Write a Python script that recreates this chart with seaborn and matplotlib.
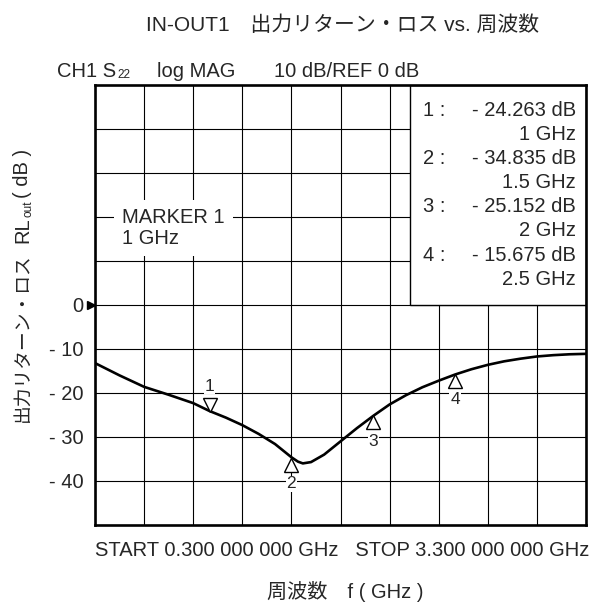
import matplotlib
matplotlib.use("Agg")
import matplotlib.pyplot as plt
import matplotlib.transforms as mtransforms
from matplotlib.patches import Rectangle
import numpy as np
import pandas as pd
import seaborn as sns

# settings
sns.set_style("white")
plt.rcParams['font.family'] = ['Liberation Sans', 'Noto Sans CJK JP']

# data
freq_ghz = [0.3, 0.45, 0.6, 0.75, 0.9, 1.0, 1.1, 1.2, 1.3, 1.4, 1.5, 1.54, 1.57,
            1.62, 1.7, 1.8, 1.9, 2.0, 2.1, 2.2, 2.3, 2.4, 2.5, 2.6, 2.7, 2.8,
            2.9, 3.0, 3.1, 3.2, 3.3]
rl_db = [-13.2, -16.0, -18.6, -20.4, -22.3, -24.1, -25.6, -27.3, -29.3, -31.6,
         -34.6, -35.6, -36.0, -35.7, -34.0, -31.0, -28.0, -25.2, -22.6, -20.5,
         -18.7, -17.2, -15.8, -14.6, -13.6, -12.8, -12.2, -11.7, -11.4, -11.2,
         -11.1]
marker_no = [1, 2, 3, 4]
marker_freq = [1.0, 1.5, 2.0, 2.5]
marker_db = [-24.263, -34.835, -25.152, -15.675]
ytick_vals = [-40, -30, -20, -10, 0, 10, 20, 30, 40]
ytick_text = ['- 40', '- 30', '- 20', '- 10', '0', '', '', '', '']

W, H = 594, 605
FS = 14.5

fig = plt.figure(figsize=(W / 100, H / 100), dpi=100)
ax = fig.add_axes([95 / W, 1 - 525 / H, 491 / W, 440 / H])

df = pd.DataFrame({'f': freq_ghz, 'rl': rl_db})
sns.lineplot(data=df, x='f', y='rl', color='black', lw=1.9, ax=ax, zorder=4)

ax.set_xlim(0.3, 3.3)
ax.set_ylim(-50, 50)
ax.set_xticks(np.linspace(0.3, 3.3, 11))
ax.set_xticklabels([])
ax.set_yticks(ytick_vals)
ax.set_yticklabels(ytick_text, fontsize=FS)
ax.tick_params(length=0, pad=8.5)
ax.grid(True, color='black', lw=0.8)
ax.set_axisbelow(True)
ax.set_xlabel('')
ax.set_ylabel('')
for s in ax.spines.values():
    s.set_linewidth(1.9)
    s.set_color('black')
    s.set_zorder(10)

# reference level arrow at 0 dB
ref = mtransforms.offset_copy(ax.get_yaxis_transform(), fig=fig, x=-2.6, units='points')
ax.plot([0], [0], marker='>', ms=5.2, color='black', transform=ref, clip_on=False, zorder=11)

# marker readout box
ax.add_patch(Rectangle((0.6415, 0.5), 0.3585, 0.5, transform=ax.transAxes,
                       facecolor='white', edgecolor='black', lw=1.0, zorder=2))
for i, (n, f, v) in enumerate(zip(marker_no, marker_freq, marker_db)):
    y1 = (525 - (110 + 2 * i * 24.2)) / 440
    y2 = (525 - (110 + (2 * i + 1) * 24.2)) / 440
    ax.text((423 - 95) / 491, y1, f"{n} :", transform=ax.transAxes,
            ha='left', va='center', fontsize=FS, zorder=3)
    ax.text((576 - 95) / 491, y1, f"- {abs(v):.3f} dB", transform=ax.transAxes,
            ha='right', va='center', fontsize=FS, zorder=3)
    ax.text((576 - 95) / 491, y2, f"{f:g} GHz", transform=ax.transAxes,
            ha='right', va='center', fontsize=FS, zorder=3)

# active marker note
ax.text((122 - 95) / 491, (525 - 228) / 440, "MARKER 1\n1 GHz", transform=ax.transAxes,
        ha='left', va='center', fontsize=FS, linespacing=1.12, zorder=3,
        bbox=dict(boxstyle='square,pad=0.4', fc='white', ec='none'))

# marker triangles and numbers
ms = 9.5
up = mtransforms.offset_copy(ax.transData, fig=fig, y=ms / 2, units='points')
down = mtransforms.offset_copy(ax.transData, fig=fig, y=-ms / 2, units='points')
for n, f, v in zip(marker_no, marker_freq, marker_db):
    above = (n == 1)
    ax.plot([f], [v], marker='v' if above else '^', ms=ms, mfc='white', mec='black',
            mew=1.0, transform=up if above else down, zorder=6)
    ax.annotate(str(n), (f, v), xytext=(0, 18.5 if above else -18.5),
                textcoords='offset points', ha='center', va='center', fontsize=12.5,
                zorder=6, bbox=dict(boxstyle='square,pad=0.05', fc='white', ec='none'))

renderer = fig.canvas.get_renderer()

# titles and annotations
fig.text(343 / W, 1 - 25 / H, "IN-OUT1　出力リターン・ロス vs. 周波数",
         ha='center', va='center', fontsize=15)
hy = 1 - 77 / H
h1 = fig.text(57 / W, hy, "CH1 S", ha='left', va='baseline', fontsize=FS)
hx = h1.get_window_extent(renderer).x1
fig.text((hx + 1) / W, hy - 1 / H, "22", ha='left', va='baseline', fontsize=8.5)
fig.text(157 / W, hy, "log MAG", ha='left', va='baseline', fontsize=FS)
fig.text(274 / W, hy, "10 dB/REF 0 dB", ha='left', va='baseline', fontsize=FS)

fig.text(95 / W, 1 - 551 / H, "START 0.300 000 000 GHz   STOP 3.300 000 000 GHz",
         ha='left', va='center', fontsize=FS)
fig.text(345 / W, 1 - 591 / H, "周波数　f ( GHz )", ha='center', va='center', fontsize=FS)

# rotated y label with subscript, pieced together
t1 = fig.text(28 / W, 1 - 422 / H, "出力リターン・ロス", rotation=90,
              rotation_mode='anchor', ha='left', va='baseline', fontsize=13.5)
b1 = t1.get_window_extent(renderer)
t2 = fig.text(28 / W, (b1.y1 + 10) / H, "RL", rotation=90,
              rotation_mode='anchor', ha='left', va='baseline', fontsize=FS)
b2 = t2.get_window_extent(renderer)
t3 = fig.text(31 / W, (b2.y1 + 1) / H, "out", rotation=90,
              rotation_mode='anchor', ha='left', va='baseline', fontsize=8.5)
b3 = t3.get_window_extent(renderer)
fig.text(28 / W, (b3.y1 + 2) / H, "( dB )", rotation=90,
         rotation_mode='anchor', ha='left', va='baseline', fontsize=FS)

fig.savefig('out.png', dpi=100)
plt.close()
